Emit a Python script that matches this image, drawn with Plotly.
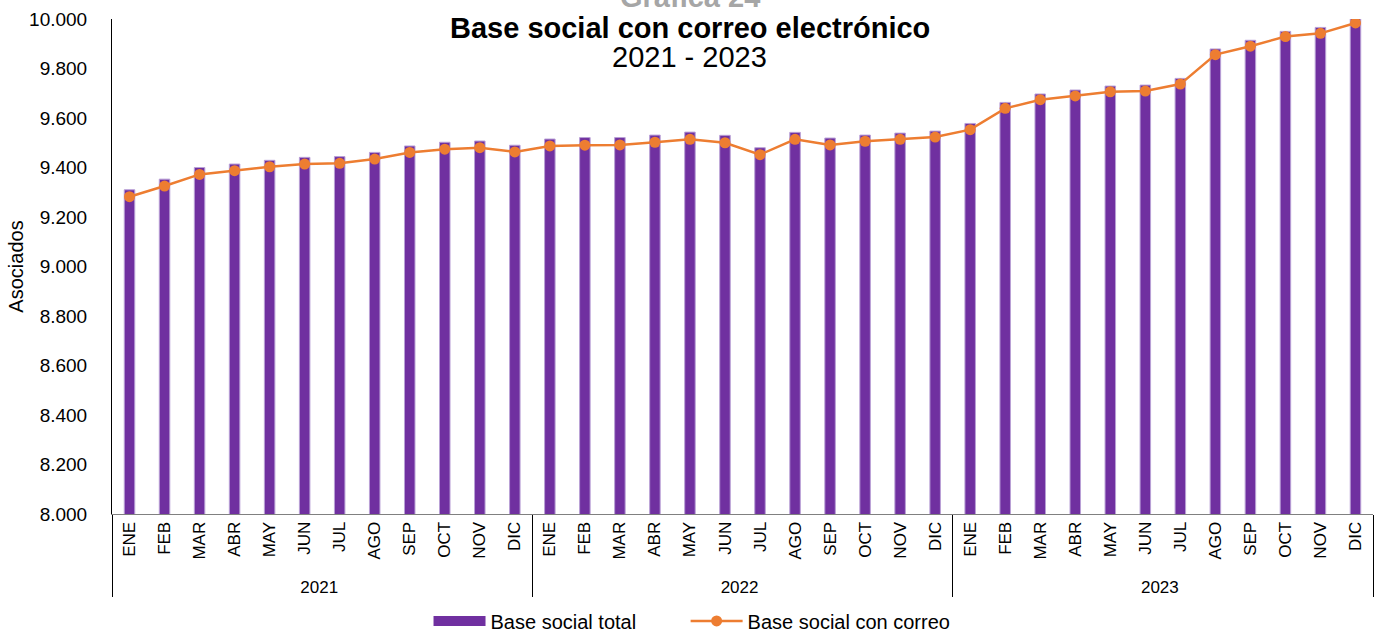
import plotly.graph_objects as go

# datos
years = ["2021", "2022", "2023"]
months = ["ENE", "FEB", "MAR", "ABR", "MAY", "JUN", "JUL", "AGO", "SEP", "OCT", "NOV", "DIC"]

base_total = [9310, 9353, 9400, 9414, 9429, 9441, 9444, 9461, 9487, 9502, 9507, 9490,
              9515, 9521, 9521, 9531, 9543, 9530, 9480, 9542, 9519, 9531, 9539, 9547,
              9578, 9663, 9697, 9713, 9729, 9733, 9760, 9879, 9914, 9950, 9966, 10004]
base_correo = [9282, 9325, 9372, 9387, 9403, 9414, 9417, 9434, 9461, 9474, 9480, 9463,
               9487, 9490, 9491, 9502, 9514, 9500, 9452, 9514, 9491, 9506, 9514, 9523,
               9553, 9639, 9674, 9689, 9706, 9709, 9737, 9856, 9890, 9929, 9942, 9984]

x_years = [y for y in years for m in months]
x_months = [m for y in years for m in months]

FONT = "Liberation Sans, Arial, sans-serif"
PURPLE = "#7030A0"
ORANGE = "#ED7D31"
XMID = (689.5 - 112) / 1261  # centro de la imagen en coordenadas del papel
GAP = "\u00a0" * 8  # separacion entre elementos de la leyenda

fig = go.Figure()
fig.add_trace(go.Bar(x=[x_years, x_months], y=base_total, name="Base social total",
                     width=0.3, showlegend=False,
                     marker=dict(color=PURPLE, line=dict(color="#B9A0D6", width=1))))
# solo para la leyenda (muestra ancha como en el original)
fig.add_trace(go.Scatter(x=[None], y=[None], name="Base social total" + GAP, mode="lines",
                         line=dict(color=PURPLE, width=10)))
fig.add_trace(go.Scatter(x=[x_years, x_months], y=base_correo, name="Base social con correo",
                         mode="lines+markers", line=dict(color=ORANGE, width=2.5),
                         marker=dict(color=ORANGE, size=11)))

fig.update_layout(
    width=1379, height=632,
    margin=dict(l=112, r=6, t=19, b=118, autoexpand=False),
    plot_bgcolor="white", paper_bgcolor="white",
    separators=",.",
    font=dict(family=FONT, color="black", size=16),
    showlegend=True,
    legend=dict(orientation="h", x=XMID + 0.002, xanchor="center", y=-0.216, yanchor="middle",
                font=dict(size=20), itemwidth=52, borderwidth=0),
    annotations=[
        dict(text="<b>Grafica 24</b>", x=XMID, y=1, xref="paper", yref="paper", showarrow=False,
             yanchor="middle", yshift=22, font=dict(size=29, color="#A6A6A6")),
        dict(text="<b>Base social con correo electrónico</b>", x=XMID, y=1, xref="paper", yref="paper",
             showarrow=False, yanchor="middle", yshift=-9, font=dict(size=29, color="black")),
        dict(text="2021 - 2023", x=XMID, y=1, xref="paper", yref="paper", showarrow=False,
             yanchor="middle", yshift=-38, font=dict(size=29, color="black")),
    ],
)
fig.update_yaxes(range=[8000, 10000], dtick=200, tickformat=",d", showgrid=False,
                 showline=True, linecolor="black", linewidth=1, zeroline=False,
                 automargin=False, ticklabelstandoff=20,
                 title=dict(text="Asociados", font=dict(size=20), standoff=0),
                 tickfont=dict(size=19))
fig.update_xaxes(range=[-0.5, 35.5], showline=True, linecolor="#808080", linewidth=1,
                 showgrid=False, automargin=False,
                 tickangle=-90, tickfont=dict(size=17),
                 showdividers=True, dividercolor="black", dividerwidth=1)

fig.write_html("out.html", config={"displayModeBar": False},
               post_script="document.body.style.margin='0';document.body.style.overflow='hidden';")
